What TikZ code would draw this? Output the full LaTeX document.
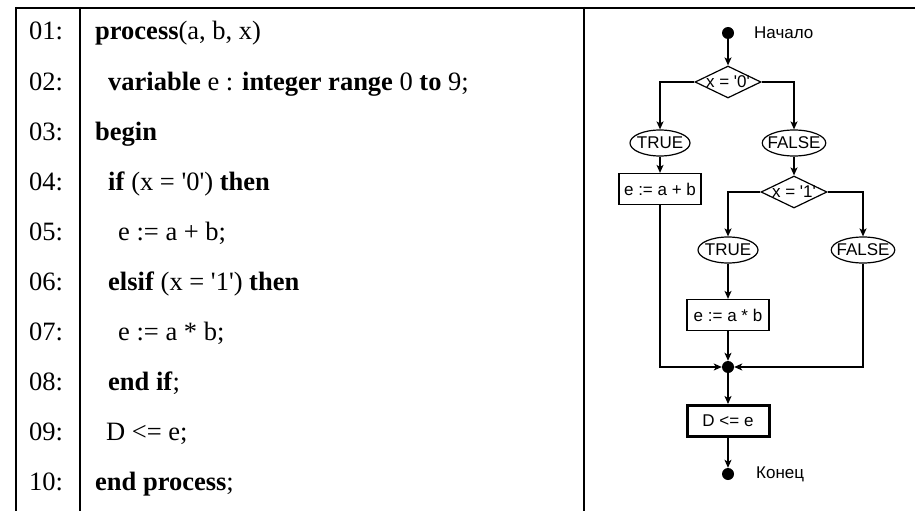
\documentclass[tikz,border=0pt]{standalone}
\usepackage{fontspec}
\setmainfont{Liberation Serif}
\newfontfamily\flowfont{Liberation Sans}
\usetikzlibrary{shapes.geometric,arrows.meta}

\begin{document}
\begin{tikzpicture}[x=1pt,y=-1pt,
  rule/.style={line width=2.2pt},
  thinrule/.style={line width=1.2pt},
  codefont/.style={font=\fontsize{26.5}{30}\selectfont},
  linenum/.style={codefont,anchor=base west,inner sep=0pt},
  codeline/.style={codefont,anchor=base west,inner sep=0pt},
  flowtext/.style={font=\flowfont\fontsize{17}{19}\selectfont},
  flow/.style={line width=1.2pt},
  arr/.style={flow,-{Stealth[length=8pt,width=7pt,inset=2pt]}},
  term/.style={circle,fill=black,inner sep=0pt,minimum size=12pt},
  cond/.style={diamond,draw,line width=1.2pt,inner sep=0pt,minimum width=66pt,minimum height=32pt},
  condtext/.style={flowtext,inner sep=0pt},
  branch/.style={ellipse,draw,line width=1.2pt,inner ysep=0pt,inner xsep=-4pt,minimum height=26pt,minimum width=60pt,flowtext},
  action/.style={rectangle,draw,line width=1.2pt,inner sep=0pt,minimum height=31pt,minimum width=82pt,flowtext},
  note/.style={flowtext,anchor=west,inner sep=0pt},
]
\useasboundingbox (0,0) rectangle (915,511);

% table frame
\draw[rule] (15,8) -- (607,8);
\draw[thinrule] (607,8) -- (910,8);
\draw[rule] (910,8) -- (915,8);
\draw[rule] (16,7) -- (16,511);
\draw[rule] (80,7) -- (80,511);
\draw[rule] (584,7) -- (584,511);

% line numbers
\foreach \i [count=\k from 0] in {01,02,03,04,05,06,07,08,09,10}
  \node[linenum] (n\i) at (29,40+50*\k) {\i:};

% code
\node[codeline] (c01) at (95,40)  {\textbf{process}(a, b, x)};
\node[codeline] (c02) at (108,90) {\textbf{variable} e : \textbf{integer range} 0 \textbf{to} 9;};
\node[codeline] (c03) at (95,140) {\textbf{begin}};
\node[codeline] (c04) at (108,190) {\textbf{if} (x = \textquotesingle 0\textquotesingle) \textbf{then}};
\node[codeline] (c05) at (118,240) {e := a + b;};
\node[codeline] (c06) at (108,290) {\textbf{elsif} (x = \textquotesingle 1\textquotesingle) \textbf{then}};
\node[codeline] (c07) at (118,340) {e := a * b;};
\node[codeline] (c08) at (108,390) {\textbf{end if};};
\node[codeline] (c09) at (106,440) {D <= e;};
\node[codeline] (c10) at (95,490) {\textbf{end process};};

% flowchart
\node[term] (start) at (728,33) {};
\node[note] (startlbl) at (754,33) {Начало};
\node[cond] (d1) at (728,82) {};
\node[condtext] (d1txt) at (728,82) {x = \textquotesingle 0\textquotesingle};
\node[branch] (t1) at (660,143) {TRUE};
\node[branch] (f1) at (794,143) {FALSE};
\node[action] (b1) at (660,189) {e := a + b};
\node[cond] (d2) at (794,192) {};
\node[condtext] (d2txt) at (794,192) {x = \textquotesingle 1\textquotesingle};
\node[branch] (t2) at (728,250) {TRUE};
\node[branch] (f2) at (863,250) {FALSE};
\node[action] (b2) at (728,315) {e := a * b};
\node[term] (merge) at (728,367) {};
\node[action,line width=3pt] (b3) at (728,421) {D <= e};
\node[term] (stop) at (728,474) {};
\node[note] (stoplbl) at (756,474) {Конец};

\draw[arr] (start) -- (d1.north);
\draw[arr] (d1.west) -| (t1.north);
\draw[arr] (d1.east) -| (f1.north);
\draw[arr] (t1) -- (b1);
\draw[arr] (f1) -- (d2.north);
\draw[arr] (d2.west) -| (t2.north);
\draw[arr] (d2.east) -| (f2.north);
\draw[arr] (t2) -- (b2);
\draw[arr] (b2) -- (merge);
\draw[arr] (b1.south) |- (merge.west);
\draw[arr] (f2.south) |- (merge.east);
\draw[arr] (merge) -- (b3);
\draw[arr] (b3) -- (stop);
\end{tikzpicture}
\end{document}
